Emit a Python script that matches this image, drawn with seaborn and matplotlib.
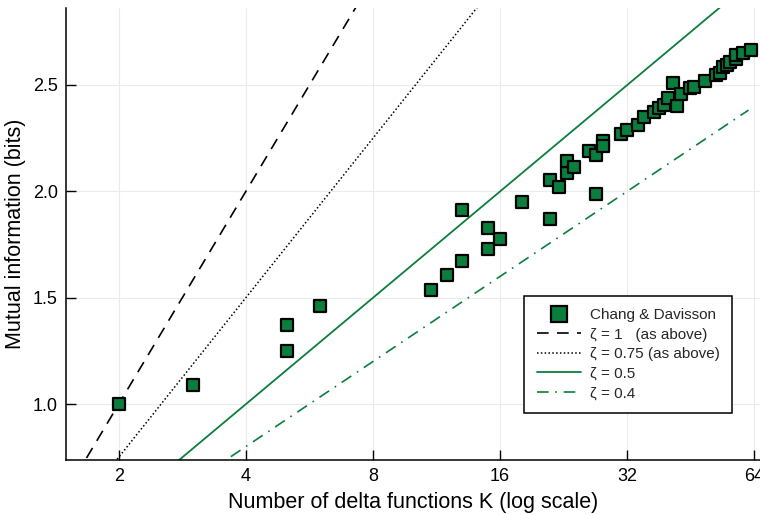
import matplotlib
matplotlib.use("Agg")
import matplotlib.pyplot as plt
import seaborn as sns
import pandas as pd
from matplotlib.lines import Line2D

# ---- data ----
chang_K = [2, 3, 5, 5, 6, 11, 12, 13, 13, 15, 15, 16, 18, 21, 21, 22, 23, 23, 24,
           26, 27, 27, 28, 28, 31, 32, 34, 35, 37, 38, 39, 40, 41, 42, 43, 45, 46,
           49, 52, 53, 54, 55, 56, 58, 58, 60, 63]
chang_mi = [1.00, 1.09, 1.37, 1.25, 1.46, 1.535, 1.607, 1.671, 1.911, 1.729, 1.826,
            1.776, 1.952, 1.870, 2.054, 2.022, 2.088, 2.141, 2.114, 2.192, 2.169,
            1.986, 2.239, 2.213, 2.268, 2.290, 2.310, 2.348, 2.372, 2.390, 2.408,
            2.440, 2.510, 2.402, 2.460, 2.488, 2.492, 2.520, 2.545, 2.556, 2.584,
            2.592, 2.607, 2.623, 2.640, 2.650, 2.664]

zeta1_K = [1.5, 8.0]
zeta1_mi = [0.585, 3.0]
zeta075_K = [1.5, 16.0]
zeta075_mi = [0.439, 3.0]
zeta05_K = [1.5, 64.0]
zeta05_mi = [0.292, 3.0]
zeta04_K = [1.5, 62.0]
zeta04_mi = [0.234, 2.382]

x_ticks = [2, 4, 8, 16, 32, 64]
y_ticks = [1.0, 1.5, 2.0, 2.5]

labels = ["Chang & Davisson", "\u03b6 = 1   (as above)", "\u03b6 = 0.75 (as above)",
          "\u03b6 = 0.5", "\u03b6 = 0.4"]

# ---- style ----
sns.set_theme(style="white")
plt.rcParams["font.family"] = ["Liberation Sans", "DejaVu Sans"]

GREEN = "#0a7f3d"

fig = plt.figure(figsize=(7.6, 5.15), dpi=100)
ax = fig.add_axes([66 / 760, 1 - 460 / 515, 694 / 760, 452 / 515])

df_pts = pd.DataFrame({"K": chang_K, "MI": chang_mi})

sns.lineplot(x=zeta1_K, y=zeta1_mi, ax=ax, color="black", lw=1.2,
             linestyle=(0, (7, 5)), zorder=2, sort=False)
sns.lineplot(x=zeta075_K, y=zeta075_mi, ax=ax, color="black", lw=1.1,
             linestyle=(0, (1, 1.5)), zorder=2, sort=False)
sns.lineplot(x=zeta05_K, y=zeta05_mi, ax=ax, color=GREEN, lw=1.3,
             linestyle="-", zorder=2, sort=False)
sns.lineplot(x=zeta04_K, y=zeta04_mi, ax=ax, color=GREEN, lw=1.2,
             linestyle=(0, (7, 4, 1, 4)), zorder=2, sort=False)
sns.scatterplot(data=df_pts, x="K", y="MI", ax=ax, marker="s", s=72,
                color=GREEN, edgecolor="black", linewidth=1.6, zorder=3)

ax.set_xscale("log", base=2)
ax.set_xlim(1.5, 66)
ax.set_ylim(0.737, 2.862)
ax.set_xticks(x_ticks)
ax.set_xticklabels([str(t) for t in x_ticks])
ax.set_yticks(y_ticks)
ax.set_yticklabels([f"{t:.1f}" for t in y_ticks])
ax.minorticks_off()

ax.grid(True, color="#ebebeb", lw=0.8)
ax.set_axisbelow(True)
for s in ["top", "right"]:
    ax.spines[s].set_visible(False)
for s in ["left", "bottom"]:
    ax.spines[s].set_color("black")
    ax.spines[s].set_linewidth(1.1)

ax.tick_params(axis="both", which="major", direction="in", length=7, width=1.0,
               color="black", labelsize=13, labelcolor="black", pad=6,
               left=True, bottom=True)

ax.set_xlabel("Number of delta functions K (log scale)", fontsize=15.5, color="black",
              labelpad=5)
ax.set_ylabel("Mutual information (bits)", fontsize=15.5, color="black", labelpad=5)

handles = [
    Line2D([], [], marker="s", linestyle="none", markersize=11.5,
           markerfacecolor=GREEN, markeredgecolor="black", markeredgewidth=1.6),
    Line2D([], [], color="black", lw=1.2, linestyle=(0, (7, 5))),
    Line2D([], [], color="black", lw=1.1, linestyle=(0, (1, 1.5))),
    Line2D([], [], color=GREEN, lw=1.3, linestyle="-"),
    Line2D([], [], color=GREEN, lw=1.2, linestyle=(0, (7, 4, 1, 4))),
]
leg = ax.legend(handles, labels, loc="lower right", bbox_to_anchor=(0.96, 0.105),
                fontsize=11, frameon=True, fancybox=False, framealpha=1,
                edgecolor="black", handlelength=2.9, handletextpad=0.6,
                labelspacing=0.36, borderpad=0.8, borderaxespad=0)
leg.get_frame().set_linewidth(1.1)

fig.savefig("out.png", dpi=100, facecolor="white")
